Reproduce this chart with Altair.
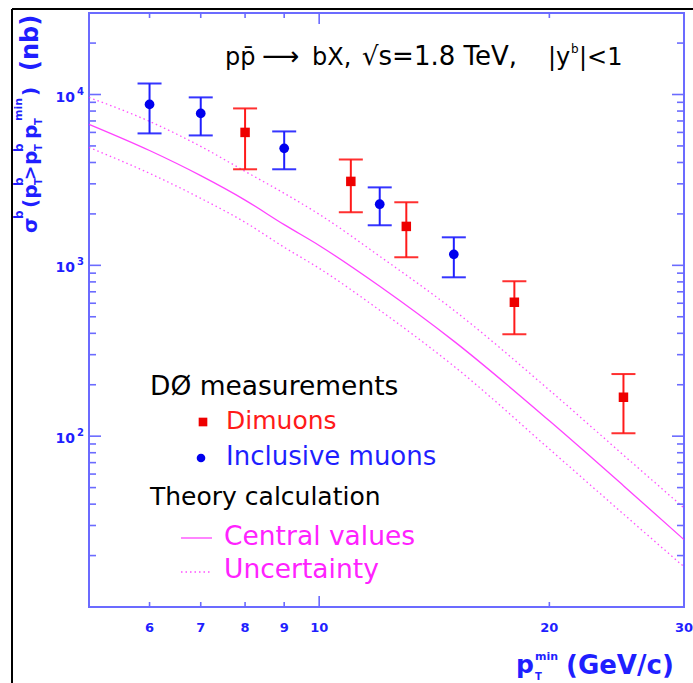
import altair as alt
import pandas as pd

# ---------------- data ----------------
incl_x = [6, 7, 9, 12, 15]
incl_y = [8750, 7750, 4840, 2280, 1160]
incl_lo = [5920, 5760, 3650, 1716, 851]
incl_hi = [11600, 9620, 6080, 2860, 1459]

dimu_x = [8, 11, 13, 18, 25]
dimu_y = [6000, 3100, 1690, 608, 169]
dimu_lo = [3650, 2043, 1115, 395, 104]
dimu_hi = [8290, 4170, 2340, 807, 231]

theory_x = [5, 6, 7, 8, 9, 10, 12, 15, 20, 25, 30]
theory_central = [6690, 4700, 3350, 2410, 1730, 1307, 754, 360, 123, 51.3, 24.8]
theory_upper = [9610, 6960, 4970, 3550, 2640, 1990, 1130, 546, 186, 77.5, 38.0]
theory_lower = [4900, 3455, 2468, 1786, 1276, 961, 546, 257, 84.1, 35.0, 17.2]

x_label_values = [6, 7, 8, 9, 10, 20, 30]
x_label_texts = ["6", "7", "8", "9", "10", "20", "30"]
x_major_ticks = [10]
x_minor_ticks = [6, 7, 8, 9, 20]
y_major_ticks = [100, 1000, 10000]
y_label_base = ["10", "10", "10"]
y_label_exp = ["2", "3", "4"]
y_minor_ticks = [20, 30, 40, 50, 60, 70, 80, 90,
                 200, 300, 400, 500, 600, 700, 800, 900,
                 2000, 3000, 4000, 5000, 6000, 7000, 8000, 9000, 20000]

# ---------------- layout / style ----------------
L, T = 89, 13
W, H = 595, 594
FONT = "DejaVu Sans"
BLUE = "#1f1fff"
AXBLUE = "#6b6bff"
RED = "#ff1a1a"
MAG = "#ff22ff"

xs = alt.Scale(type="log", domain=[5, 30], nice=False)
ys = alt.Scale(type="log", domain=[10, 30000], nice=False)

def X(f):
    return alt.X(f, scale=xs, axis=None)

def Y(f):
    return alt.Y(f, scale=ys, axis=None)

layers = []

# theory curves
th = pd.DataFrame({"x": theory_x, "c": theory_central, "u": theory_upper, "l": theory_lower})
layers.append(alt.Chart(th).mark_line(color=MAG, strokeWidth=1.3, opacity=0.85, interpolate="monotone").encode(
    x=X("x:Q"), y=Y("c:Q")))
for col in ["u", "l"]:
    layers.append(alt.Chart(th).mark_line(color=MAG, strokeWidth=1.3, opacity=0.8, strokeDash=[1.5, 3],
                                          interpolate="monotone").encode(x=X("x:Q"), y=Y(f"{col}:Q")))

# axis ticks (inward, mirrored)
def yticks(vals, length, side):
    d = pd.DataFrame({"v": vals})
    xx, xx2 = (0, length) if side == "left" else (W, W - length)
    return alt.Chart(d).mark_rule(color=AXBLUE, strokeWidth=1.6).encode(
        y=Y("v:Q"), x=alt.value(xx), x2=alt.value(xx2))

def xticks(vals, length, side):
    d = pd.DataFrame({"v": vals})
    yy, yy2 = (H, H - length) if side == "bottom" else (0, length)
    return alt.Chart(d).mark_rule(color=AXBLUE, strokeWidth=1.6).encode(
        x=X("v:Q"), y=alt.value(yy), y2=alt.value(yy2))

for side in ["left", "right"]:
    layers.append(yticks(y_major_ticks, 12, side))
    layers.append(yticks(y_minor_ticks, 7, side))
for side in ["bottom", "top"]:
    layers.append(xticks(x_major_ticks, 11, side))
    layers.append(xticks(x_minor_ticks, 5, side))

# tick labels
layers.append(alt.Chart(pd.DataFrame({"v": x_label_values, "t": x_label_texts})).mark_text(
    font=FONT, fontSize=13, fontWeight="bold", color=BLUE, baseline="top", align="center").encode(
    x=X("v:Q"), y=alt.value(H + 15), text="t:N"))
ylab = pd.DataFrame({"v": y_major_ticks, "b": y_label_base, "e": y_label_exp})
layers.append(alt.Chart(ylab).mark_text(
    font=FONT, fontSize=14, fontWeight="bold", color=BLUE, baseline="middle", align="right", dy=3).encode(
    y=Y("v:Q"), x=alt.value(75 - L), text="b:N"))
layers.append(alt.Chart(ylab).mark_text(
    font=FONT, fontSize=10, fontWeight="bold", color=BLUE, baseline="middle", align="left", dy=-3).encode(
    y=Y("v:Q"), x=alt.value(77 - L), text="e:N"))

# data points with error bars
inc = pd.DataFrame({"x": incl_x, "y": incl_y, "lo": incl_lo, "hi": incl_hi})
dim = pd.DataFrame({"x": dimu_x, "y": dimu_y, "lo": dimu_lo, "hi": dimu_hi})

for df, color in [(inc, BLUE), (dim, RED)]:
    base = alt.Chart(df)
    layers.append(base.mark_rule(color=color, strokeWidth=2).encode(x=X("x:Q"), y=Y("lo:Q"), y2="hi:Q"))
    for c in ["lo", "hi"]:
        layers.append(base.mark_tick(color=color, orient="horizontal", size=24, thickness=2, opacity=0.9).encode(
            x=X("x:Q"), y=Y(f"{c}:Q")))

layers.append(alt.Chart(inc).mark_circle(color="#0000ee", size=95, opacity=1).encode(x=X("x:Q"), y=Y("y:Q")))
layers.append(alt.Chart(dim).mark_square(color="#ee0000", size=90, opacity=1).encode(x=X("x:Q"), y=Y("y:Q")))


# text helper (page coordinates)
def txt(s, px, py, size=25, color="black", align="left", baseline="alphabetic", angle=0, weight="normal"):
    return alt.Chart(pd.DataFrame({"t": [s]})).mark_text(
        align=align, baseline=baseline, fontSize=size, font=FONT, color=color,
        angle=angle, fontWeight=weight).encode(
        text="t:N", x=alt.value(px - L), y=alt.value(py - T))

# header
layers += [
    txt("pp̄", 225, 65, 24),
    txt("⟶", 262, 65, 26),
    txt("bX,", 312, 65, 24),
    txt("√s=1.8 TeV,", 362, 65, 26),
    txt("|y", 548, 65, 24),
    txt("b", 571, 53, 12),
    txt("|<1", 579, 65, 24),
]

# legend
layers += [
    txt("DØ measurements", 150, 395, 26.5),
    txt("Dimuons", 226, 429, 25, RED),
    txt("Inclusive muons", 226, 465, 26, BLUE),
    txt("Theory calculation", 150, 505, 25),
    txt("Central values", 224, 545, 26.5, MAG),
    txt("Uncertainty", 224, 578, 26.5, MAG),
]
one = pd.DataFrame({"t": [1]})
layers.append(alt.Chart(one).mark_square(color="#ee0000", size=75, opacity=1).encode(
    x=alt.value(203 - L), y=alt.value(422 - T)))
layers.append(alt.Chart(one).mark_circle(color="#0000ee", size=75, opacity=1).encode(
    x=alt.value(201 - L), y=alt.value(458 - T)))
layers.append(alt.Chart(one).mark_rule(color=MAG, strokeWidth=1.3, opacity=0.85).encode(
    x=alt.value(181 - L), x2=alt.value(212 - L), y=alt.value(538 - T)))
layers.append(alt.Chart(one).mark_rule(color=MAG, strokeWidth=1.3, opacity=0.8, strokeDash=[1.5, 3]).encode(
    x=alt.value(181 - L), x2=alt.value(212 - L), y=alt.value(572 - T)))

# x axis title
layers += [
    txt("p", 516, 673, 25, BLUE, weight="bold"),
    txt("T", 535, 680, 10, BLUE, weight="bold"),
    txt("min", 535, 660, 11, BLUE, weight="bold"),
    txt("(GeV/c)", 566, 674, 26, BLUE, weight="bold"),
]

# y axis title (rotated, reading upwards)
def rtxt(s, px, py, size):
    return txt(s, px, py, size, BLUE, align="left", baseline="middle", angle=270, weight="bold")

layers += [
    rtxt("σ", 31, 233, 20),
    rtxt("b", 19, 219, 12),
    rtxt("(p", 31, 208, 20),
    rtxt("T", 39, 185, 10),
    rtxt("b", 19, 186, 12),
    rtxt(">", 31, 180, 17),
    rtxt("p", 31, 165, 20),
    rtxt("T", 39, 151, 10),
    rtxt("b", 19, 152, 12),
    rtxt("p", 31, 139, 20),
    rtxt("T", 39, 125, 10),
    rtxt("min", 19, 121, 11),
    rtxt(")", 31, 96, 20),
    rtxt("(nb)", 31, 71, 24),
]

# outer black border of the picture (left and top)
layers.append(alt.Chart(one).mark_rule(color="black", strokeWidth=2).encode(
    x=alt.value(12 - L), y=alt.value(9 - T), y2=alt.value(683 - T)))
layers.append(alt.Chart(one).mark_rule(color="black", strokeWidth=2).encode(
    x=alt.value(12 - L), x2=alt.value(693 - L), y=alt.value(9 - T)))

chart = alt.layer(*layers).properties(
    width=W, height=H,
    autosize=alt.AutoSizeParams(type="none"),
    padding={"left": L, "top": T, "right": 693 - L - W, "bottom": 683 - T - H},
    background="white",
).configure_view(stroke=AXBLUE, strokeWidth=2)

chart.save("out.html", embed_options={"renderer": "svg", "actions": False})
